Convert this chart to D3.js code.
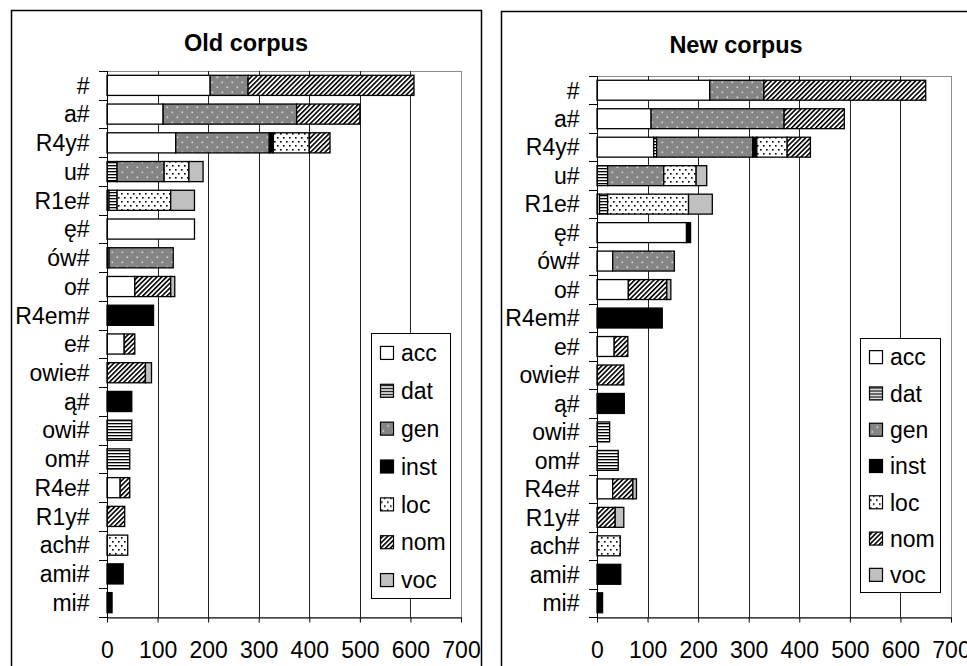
<!DOCTYPE html>
<meta charset="utf-8">
<style>
body { margin: 0; background: #fff; }
text { font-family: "Liberation Sans", Arial, sans-serif; fill: #000; }
.title { font-size: 23.5px; font-weight: bold; text-anchor: middle; }
.tick text { font-size: 23px; }
.legend text { font-size: 23px; }
</style>
<svg width="967" height="666"></svg>
<script src="https://cdn.jsdelivr.net/npm/d3@7"></script>
<script>
// categories (top to bottom) and case series
var categories = ["#", "a#", "R4y#", "u#", "R1e#", "ę#", "ów#", "o#", "R4em#", "e#", "owie#", "ą#", "owi#", "om#", "R4e#", "R1y#", "ach#", "ami#", "mi#"];
var cases = ["acc", "dat", "gen", "inst", "loc", "nom", "voc"];
var xTicks = [0, 100, 200, 300, 400, 500, 600, 700];

// old corpus, one array per case, same order as categories
var oldAcc  = [204, 111, 136, 0, 4, 173, 4, 55, 0, 34, 0, 0, 0, 0, 26, 0, 0, 0, 0];
var oldDat  = [0, 0, 0, 20, 16, 0, 0, 0, 0, 0, 0, 0, 49, 45, 0, 0, 0, 0, 0];
var oldGen  = [75, 264, 185, 93, 0, 0, 127, 0, 0, 0, 0, 0, 0, 0, 0, 0, 0, 0, 0];
var oldInst = [0, 0, 8, 0, 0, 0, 0, 0, 92, 0, 0, 49, 0, 0, 0, 0, 0, 32, 10];
var oldLoc  = [0, 0, 71, 49, 106, 0, 0, 0, 0, 0, 0, 0, 0, 0, 0, 0, 41, 0, 0];
var oldNom  = [328, 125, 41, 0, 0, 0, 0, 71, 0, 21, 76, 0, 0, 0, 19, 35, 0, 0, 0];
var oldVoc  = [0, 0, 0, 28, 47, 0, 0, 8, 0, 0, 12, 0, 0, 0, 0, 0, 0, 0, 0];

// new corpus
var newAcc  = [223, 107, 112, 0, 5, 177, 31, 62, 0, 34, 0, 0, 0, 0, 31, 0, 0, 0, 0];
var newDat  = [0, 0, 6, 21, 16, 0, 0, 0, 0, 0, 0, 0, 25, 42, 0, 0, 0, 0, 0];
var newGen  = [107, 263, 190, 111, 0, 0, 122, 0, 0, 0, 0, 0, 0, 0, 0, 0, 0, 0, 0];
var newInst = [0, 0, 8, 0, 0, 8, 0, 0, 129, 0, 0, 54, 0, 0, 0, 0, 0, 47, 11];
var newLoc  = [0, 0, 60, 64, 160, 0, 0, 0, 0, 0, 0, 0, 0, 0, 0, 0, 46, 0, 0];
var newNom  = [320, 119, 46, 0, 0, 0, 0, 76, 0, 27, 53, 0, 0, 0, 40, 36, 0, 0, 0];
var newVoc  = [0, 0, 0, 21, 47, 0, 0, 8, 0, 0, 0, 0, 0, 0, 7, 17, 0, 0, 0];

function toRows(series) {
  return categories.map(function(c, i) {
    var r = { cat: c };
    cases.forEach(function(k, j) { r[k] = series[j][i]; });
    return r;
  });
}

var svg = d3.select("svg");
var defs = svg.append("defs");

// fill patterns, Excel black & white style
var pGen = defs.append("pattern").attr("id", "p-gen").attr("patternUnits", "userSpaceOnUse").attr("width", 10).attr("height", 10);
pGen.append("rect").attr("width", 10).attr("height", 10).attr("fill", "#858585");
pGen.append("rect").attr("x", 1.5).attr("y", 1.5).attr("width", 1.6).attr("height", 1.6).attr("fill", "#d8d8d8");
pGen.append("rect").attr("x", 6.5).attr("y", 6.5).attr("width", 1.6).attr("height", 1.6).attr("fill", "#d8d8d8");

var pLoc = defs.append("pattern").attr("id", "p-loc").attr("patternUnits", "userSpaceOnUse").attr("width", 6).attr("height", 8);
pLoc.append("rect").attr("width", 6).attr("height", 8).attr("fill", "#fff");
pLoc.append("rect").attr("x", 1).attr("y", 1).attr("width", 1.6).attr("height", 1.6).attr("fill", "#000");
pLoc.append("rect").attr("x", 4).attr("y", 5).attr("width", 1.6).attr("height", 1.6).attr("fill", "#000");

var pDat = defs.append("pattern").attr("id", "p-dat").attr("patternUnits", "userSpaceOnUse").attr("width", 4).attr("height", 3);
pDat.append("rect").attr("width", 4).attr("height", 3).attr("fill", "#fff");
pDat.append("rect").attr("y", 0).attr("width", 4).attr("height", 1.3).attr("fill", "#000");

var pNom = defs.append("pattern").attr("id", "p-nom").attr("patternUnits", "userSpaceOnUse").attr("width", 3.4).attr("height", 10)
    .attr("patternTransform", "rotate(45)");
pNom.append("rect").attr("width", 3.4).attr("height", 10).attr("fill", "#fff");
pNom.append("rect").attr("width", 1.6).attr("height", 10).attr("fill", "#000");

var fills = {
  acc: "#fff", dat: "url(#p-dat)", gen: "url(#p-gen)", inst: "#000",
  loc: "url(#p-loc)", nom: "url(#p-nom)", voc: "#c0c0c0"
};

var panels = [
  { title: "Old corpus", rows: toRows([oldAcc, oldDat, oldGen, oldInst, oldLoc, oldNom, oldVoc]),
    box: [11, 10, 470, 720], plot: [107, 461, 71, 617], titleY: 51, legend: [371, 333, 79, 265] },
  { title: "New corpus", rows: toRows([newAcc, newDat, newGen, newInst, newLoc, newNom, newVoc]),
    box: [501, 11, 480, 720], plot: [597, 951, 76, 617], titleY: 53, legend: [860, 338, 80, 254] }
];

panels.forEach(function(p) {
  var g = svg.append("g");
  var x0 = p.plot[0], x1 = p.plot[1], y0 = p.plot[2], y1 = p.plot[3];

  g.append("rect")
      .attr("x", p.box[0] + 0.5).attr("y", p.box[1] + 0.5)
      .attr("width", p.box[2]).attr("height", p.box[3])
      .attr("fill", "#fff").attr("stroke", "#000").attr("stroke-width", 1.5);

  g.append("text").attr("class", "title")
      .attr("x", (p.box[0] + p.box[0] + 470) / 2).attr("y", p.titleY)
      .text(p.title);

  var x = d3.scaleLinear().domain([0, 700]).range([x0, x1]);
  var y = d3.scaleBand().domain(categories).range([y0, y1]).paddingInner(0.3).paddingOuter(0.15);

  // plot frame (grey) and gridlines
  g.append("rect")
      .attr("x", x0 + 0.5).attr("y", y0 + 0.5).attr("width", x1 - x0).attr("height", y1 - y0)
      .attr("fill", "none").attr("stroke", "#8c8c8c");
  g.selectAll(".grid").data(xTicks.slice(1, -1)).enter().append("line")
      .attr("x1", function(d) { return Math.round(x(d)) + 0.5; })
      .attr("x2", function(d) { return Math.round(x(d)) + 0.5; })
      .attr("y1", y0).attr("y2", y1)
      .attr("stroke", "#222");

  // stacked bars
  var stack = d3.stack().keys(cases)(p.rows);
  g.selectAll(".layer").data(stack).enter().append("g")
      .attr("fill", function(d) { return fills[d.key]; })
    .selectAll("rect").data(function(d) { return d.filter(function(s) { return s[1] > s[0]; }); })
    .enter().append("rect")
      .attr("x", function(d) { return x(d[0]); })
      .attr("width", function(d) { return x(d[1]) - x(d[0]); })
      .attr("y", function(d) { return y(d.data.cat); })
      .attr("height", y.bandwidth())
      .attr("stroke", "#000").attr("stroke-width", 1.3);

  // bottom axis
  var ax = g.append("g").attr("transform", "translate(0," + (y1 + 0.5) + ")")
      .call(d3.axisBottom(x).tickValues(xTicks).tickSize(5).tickSizeOuter(0).tickPadding(19));
  ax.select(".domain").attr("stroke", "#000");
  ax.selectAll(".tick text").attr("font-family", null).attr("font-size", null);

  // left axis: labels plus ticks between categories
  var ay = g.append("g").attr("transform", "translate(" + (x0 + 0.5) + ",0)")
      .call(d3.axisLeft(y).tickSize(0).tickPadding(18));
  ay.select(".domain").remove();
  ay.selectAll(".tick text").attr("font-family", null).attr("font-size", null).attr("dy", "0.36em");
  var bounds = d3.range(categories.length + 1).map(function(i) { return y0 + i * y.step(); });
  g.append("line").attr("x1", x0 + 0.5).attr("x2", x0 + 0.5).attr("y1", y0).attr("y2", y1 + 5).attr("stroke", "#000");
  g.selectAll(".ytick").data(bounds).enter().append("line")
      .attr("x1", x0 - 8).attr("x2", x0)
      .attr("y1", function(d) { return Math.round(d) + 0.5; })
      .attr("y2", function(d) { return Math.round(d) + 0.5; })
      .attr("stroke", "#000");

  // legend
  var L = p.legend, step = L[3] / cases.length;
  var lg = g.append("g").attr("class", "legend");
  lg.append("rect").attr("x", L[0] + 0.5).attr("y", L[1] + 0.5).attr("width", L[2]).attr("height", L[3])
      .attr("fill", "#fff").attr("stroke", "#000");
  var item = lg.selectAll(".item").data(cases).enter().append("g")
      .attr("transform", function(d, i) { return "translate(" + L[0] + "," + (L[1] + step * (i + 0.5) + 1) + ")"; });
  item.append("rect").attr("x", 9.5).attr("y", -6.5).attr("width", 13).attr("height", 13)
      .attr("fill", function(d) { return fills[d]; }).attr("stroke", "#000").attr("stroke-width", 1.2);
  item.append("text").attr("x", 30).attr("dy", "0.36em").text(function(d) { return d; });
});
</script>
